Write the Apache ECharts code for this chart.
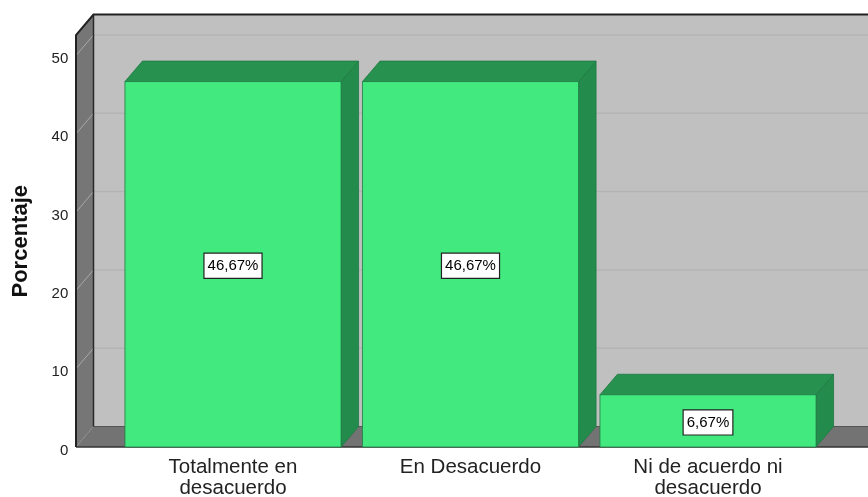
<!DOCTYPE html>
<html>
<head>
<meta charset="utf-8">
<script src="https://cdn.jsdelivr.net/npm/echarts@6/dist/echarts.min.js"></script>
<style>
html,body{margin:0;padding:0;background:#fff;}
#chart{width:868px;height:497px;}
</style>
</head>
<body>
<div id="chart"></div>
<script>
// ---- data ----
const categories = ['Totalmente en\ndesacuerdo', 'En Desacuerdo', 'Ni de acuerdo ni\ndesacuerdo'];
const values = [46.67, 46.67, 6.67];
const valueLabels = ['46,67%', '46,67%', '6,67%'];
const yTicks = [0, 10, 20, 30, 40, 50];
const yAxisTitle = 'Porcentaje';

// ---- layout / style ----
const DX = 17.5, DY = -20.5;      // 3D depth offset
const WALL_LEFT = 76;             // front edge of left wall
const FONT = 'Arial, "Liberation Sans", sans-serif';

const chart = echarts.init(document.getElementById('chart'), null, {renderer: 'canvas'});

function wallsRender(params, api) {
  const R = api.getWidth();
  const y0 = api.coord([0, yTicks[0]])[1];
  const yTop = api.coord([0, yTicks[yTicks.length - 1]])[1];
  const L = WALL_LEFT;
  const children = [];
  // floor
  children.push({type: 'polygon', shape: {points: [[L, y0], [L + DX, y0 + DY], [R, y0 + DY], [R, y0]]},
    style: {fill: '#737373'}});
  // left wall
  children.push({type: 'polygon', shape: {points: [[L, y0], [L, yTop + DY], [L + DX, yTop + 2 * DY], [L + DX, y0 + DY]]},
    style: {fill: '#767676'}});
  // back wall
  children.push({type: 'rect', shape: {x: L + DX, y: yTop + 2 * DY, width: R - (L + DX), height: (y0 + DY) - (yTop + 2 * DY)},
    style: {fill: '#c0c0c0'}});
  // grid lines
  yTicks.forEach(function (v) {
    const y = api.coord([0, v])[1];
    if (v !== 0) {
      children.push({type: 'line', shape: {x1: L + DX, y1: y + DY, x2: R, y2: y + DY},
        style: {stroke: '#b4b4b4', lineWidth: 1.5}});
    }
    children.push({type: 'line', shape: {x1: L, y1: y, x2: L + DX, y2: y + DY},
      style: {stroke: v === 0 ? '#8a8a8a' : '#a9a9a9', lineWidth: 1}});
  });
  // borders
  children.push({type: 'line', shape: {x1: L + DX, y1: y0 + DY, x2: R, y2: y0 + DY}, style: {stroke: '#555', lineWidth: 1}});
  children.push({type: 'line', shape: {x1: L + DX, y1: yTop + 2 * DY, x2: L + DX, y2: y0 + DY}, style: {stroke: '#2a2a2a', lineWidth: 1.5}});
  children.push({type: 'line', shape: {x1: L, y1: y0, x2: R, y2: y0}, style: {stroke: '#333', lineWidth: 1.5}});
  children.push({type: 'polyline', shape: {points: [[L, y0], [L, yTop + DY], [L + DX, yTop + 2 * DY], [R, yTop + 2 * DY]]},
    style: {stroke: '#222', lineWidth: 2, fill: null}});
  return {type: 'group', children: children};
}

function barRender(params, api) {
  const i = api.value(0);
  const v = api.value(1);
  const top = api.coord([i, v]);
  const base = api.coord([i, 0]);
  const bw = api.size([1, 0])[0] * 0.91;
  const x0 = top[0] - bw / 2, x1 = top[0] + bw / 2;
  const y0 = top[1], y1 = base[1];
  const edge = {stroke: '#1f7a43', lineWidth: 0.8};
  return {
    type: 'group',
    children: [
      {type: 'polygon', shape: {points: [[x1, y0], [x1 + DX, y0 + DY], [x1 + DX, y1 + DY], [x1, y1]]},
        style: Object.assign({fill: '#238c4c'}, edge)},
      {type: 'polygon', shape: {points: [[x0, y0], [x0 + DX, y0 + DY], [x1 + DX, y0 + DY], [x1, y0]]},
        style: Object.assign({fill: '#27914f'}, edge)},
      {type: 'rect', shape: {x: x0, y: y0, width: bw, height: y1 - y0},
        style: Object.assign({fill: '#41e97f'}, edge)},
      {type: 'text', x: (x0 + x1) / 2, y: (y0 + y1) / 2 + 1.5, z2: 10,
        style: {text: valueLabels[params.dataIndex], fontFamily: FONT, fontSize: 15, lineHeight: 16,
          fill: '#000', align: 'center', verticalAlign: 'middle',
          backgroundColor: '#fff', borderColor: '#222', borderWidth: 1.2, padding: [4, 3]}}
    ]
  };
}

const option = {
  animation: false,
  backgroundColor: '#fff',
  grid: {left: 114.25, right: 41.25, top: 55.5, bottom: 50, containLabel: false, outerBoundsMode: 'none'},
  xAxis: {
    type: 'category',
    data: categories,
    axisLine: {show: false},
    axisTick: {show: false},
    axisLabel: {fontFamily: FONT, fontSize: 20.5, lineHeight: 21, color: '#222', margin: 10, interval: 0}
  },
  yAxis: {
    type: 'value',
    min: 0, max: 50, interval: 10,
    name: yAxisTitle,
    nameLocation: 'middle',
    nameGap: 82,
    nameRotate: 90,
    nameTextStyle: {fontFamily: FONT, fontSize: 22, fontWeight: 'bold', color: '#111', padding: [0, 0, 0, 20]},
    axisLine: {show: false},
    axisTick: {show: false},
    splitLine: {show: false},
    axisLabel: {
      margin: 46,
      formatter: function (v) { return '{t|' + v + '}'; },
      rich: {t: {fontFamily: FONT, fontSize: 15, color: '#222', lineHeight: 15, padding: [7, 0, 0, 0]}}
    }
  },
  series: [
    {type: 'custom', z: 1, renderItem: wallsRender, data: [[0, 0]], silent: true, clip: false},
    {type: 'custom', z: 2, renderItem: barRender, clip: false,
      encode: {x: 0, y: 1},
      data: values.map(function (v, i) { return [i, v]; })}
  ]
};
chart.setOption(option);
</script>
</body>
</html>
